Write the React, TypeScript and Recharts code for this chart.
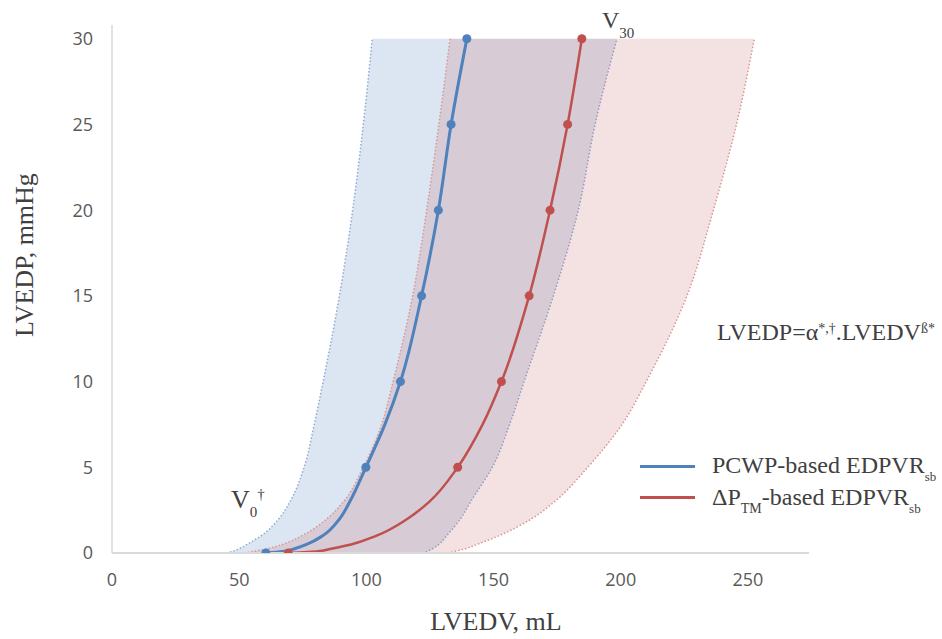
import React from 'react';
import {
  ComposedChart,
  Area,
  Line,
  XAxis,
  YAxis,
} from 'recharts';

// LVEDP levels (mmHg) at which the curves are read
const pressure = [0, 0.1, 0.25, 0.5, 1, 2, 3, 5, 7.5, 10, 15, 20, 25, 30];
const markerPressures = [0, 5, 10, 15, 20, 25, 30];

// LVEDV (mL) of each curve at those levels
const pcwpVolume = [60.5, 68, 71.8, 76.5, 82.8, 89.5, 93.5, 99.8, 107.3, 113.4, 121.7, 128.3, 133.3, 139.5];
const ptmVolume = [69.3, 81, 86.2, 94, 103.8, 116.2, 124.8, 135.9, 145.7, 153.1, 164, 172.2, 179.1, 184.7];

// confidence bands (left / right edge)
const pcwpBandLow = [45, 47.5, 50, 53, 58.6, 65.6, 70, 75.5, 79.5, 83, 89.4, 94.6, 98.8, 102.3];
const pcwpBandHigh = [122, 124, 126, 128.5, 131.5, 137, 141, 149.5, 156.3, 162, 173.5, 183.3, 189.9, 198.5];
const ptmBandLow = [52, 56, 61, 67, 74.5, 84.5, 91, 98.8, 106, 110.5, 118.2, 123.7, 128.5, 132.9];
const ptmBandHigh = [132, 135, 139, 143.5, 152, 165, 174, 187, 200.5, 210, 226, 236.4, 245.5, 252.5];

const xTicks = [0, 50, 100, 150, 200, 250];
const yTicks = [0, 5, 10, 15, 20, 25, 30];

const BLUE = '#4f81bd';
const RED = '#c0504d';
const SERIF = '"Liberation Serif", "Times New Roman", serif';
const TEXT = '#404040';

const rows = pressure.map((p, i) => ({
  p,
  pcwp: pcwpVolume[i],
  ptm: ptmVolume[i],
  pcwpBand: [pcwpBandLow[i], pcwpBandHigh[i]],
  ptmBand: [ptmBandLow[i], ptmBandHigh[i]],
  pcwpDot: markerPressures.includes(p) ? pcwpVolume[i] : null,
  ptmDot: markerPressures.includes(p) ? ptmVolume[i] : null,
}));

const abs = (left: number, top: number, size: number): React.CSSProperties => ({
  position: 'absolute',
  left,
  top,
  fontFamily: SERIF,
  fontSize: size,
  lineHeight: 1,
  color: TEXT,
  whiteSpace: 'nowrap',
});

const Sub = ({ children, size, dy }: { children: React.ReactNode; size: number; dy: number }) => (
  <span style={{ fontSize: size, position: 'relative', top: dy }}>{children}</span>
);

export default function App() {
  const tick = { fill: '#595959', fontSize: 18, fontFamily: '"Open Sans", sans-serif' };
  return (
    <div style={{ position: 'absolute', left: 0, top: 0, width: 942, height: 639, background: '#fff' }}>
      <ComposedChart
        width={942}
        height={639}
        data={rows}
        layout="vertical"
        margin={{ top: 25, right: 133, left: 52, bottom: 56 }}
      >
        <XAxis
          type="number"
          domain={[0, 274]}
          ticks={xTicks}
          tick={tick}
          tickLine={false}
          tickSize={0}
          tickMargin={20}
          height={30}
          axisLine={{ stroke: '#d9d9d9', strokeWidth: 2 }}
          allowDataOverflow
        />
        <YAxis
          type="number"
          dataKey="p"
          domain={[0, 30.8]}
          ticks={yTicks}
          reversed
          tick={tick}
          tickLine={false}
          tickSize={0}
          tickMargin={19}
          width={60}
          axisLine={{ stroke: '#d9d9d9', strokeWidth: 1.5 }}
          allowDataOverflow
        />
        <Area
          dataKey="pcwpBand"
          type="monotone"
          fill={BLUE}
          fillOpacity={0.2}
          stroke="#8eaad6"
          strokeWidth={1.5}
          strokeDasharray="1.5 2"
          isAnimationActive={false}
          activeDot={false}
        />
        <Area
          dataKey="ptmBand"
          type="monotone"
          fill={RED}
          fillOpacity={0.17}
          stroke="#d99694"
          strokeWidth={1.5}
          strokeDasharray="1.5 2"
          isAnimationActive={false}
          activeDot={false}
        />
        <Line dataKey="pcwp" type="monotone" stroke={BLUE} strokeWidth={3} dot={false} isAnimationActive={false} />
        <Line dataKey="ptm" type="monotone" stroke={RED} strokeWidth={2.5} dot={false} isAnimationActive={false} />
        <Line
          dataKey="pcwpDot"
          stroke="none"
          dot={{ r: 4.5, fill: BLUE, stroke: 'none' }}
          isAnimationActive={false}
        />
        <Line
          dataKey="ptmDot"
          stroke="none"
          dot={{ r: 4.5, fill: RED, stroke: 'none' }}
          isAnimationActive={false}
        />
      </ComposedChart>

      {/* axis titles */}
      <div
        style={{
          ...abs(25 - 150, 255 - 13, 26),
          width: 300,
          textAlign: 'center',
          transform: 'rotate(-90deg)',
        }}
      >
        LVEDP, mmHg
      </div>
      <div style={{ ...abs(496 - 150, 622 - 13, 26), width: 300, textAlign: 'center' }}>LVEDV, mL</div>

      {/* annotations */}
      <div style={abs(602, 8, 24)}>
        V<Sub size={15} dy={10}>30</Sub>
      </div>
      <div style={abs(231, 487, 26)}>
        V<Sub size={15} dy={9}>0</Sub>
        <Sub size={15} dy={-9}>†</Sub>
      </div>
      <div style={abs(717, 320, 24)}>
        LVEDP=α<Sub size={14} dy={-7}>*,†</Sub>.LVEDV<Sub size={14} dy={-7}>ß*</Sub>
      </div>

      {/* legend */}
      <div style={{ position: 'absolute', left: 640, top: 465, width: 55, height: 3, background: BLUE }} />
      <div style={{ position: 'absolute', left: 640, top: 496, width: 55, height: 3, background: RED }} />
      <div style={abs(712, 453, 24)}>
        PCWP-based EDPVR<Sub size={13} dy={8}>sb</Sub>
      </div>
      <div style={abs(712, 485, 24)}>
        ΔP<Sub size={14} dy={8}>TM</Sub>-based EDPVR<Sub size={13} dy={8}>sb</Sub>
      </div>
    </div>
  );
}
